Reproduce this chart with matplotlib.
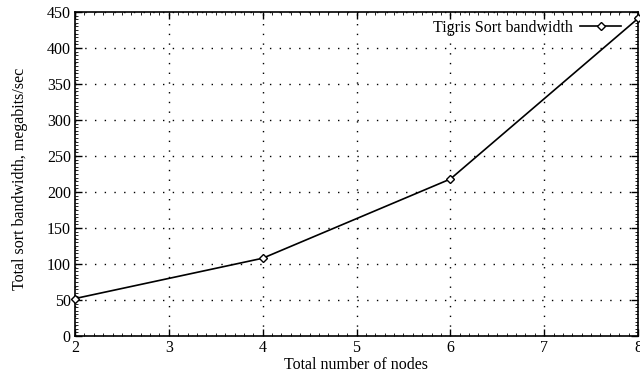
import matplotlib
matplotlib.use("Agg")
import matplotlib.pyplot as plt
from matplotlib.ticker import MultipleLocator

nodes = [2, 4, 6, 8]
bandwidth = [52, 108, 218, 441]

plt.rcParams['font.family'] = ['Liberation Serif', 'DejaVu Serif']
plt.rcParams['font.size'] = 11.5

fig = plt.figure(figsize=(6.4, 3.72), dpi=100)
ax = fig.add_axes([75 / 640, 1 - 336 / 372, 563 / 640, 324 / 372])

ax.plot(nodes, bandwidth, color='black', lw=1.2, marker='D', markersize=4.5,
        markerfacecolor='white', markeredgecolor='black', markeredgewidth=1.0,
        label='Tigris Sort bandwidth', clip_on=False, zorder=3)

ax.set_xlim(2, 8)
ax.set_ylim(0, 450)
ax.xaxis.set_major_locator(MultipleLocator(1))
ax.yaxis.set_major_locator(MultipleLocator(50))
ax.xaxis.set_minor_locator(MultipleLocator(0.1))
ax.yaxis.set_minor_locator(MultipleLocator(5))
ax.tick_params(which='both', direction='in', top=True, right=True, colors='black')
ax.tick_params(which='major', length=5, width=1)
ax.tick_params(which='minor', length=2, width=0.6)
ax.tick_params(axis='x', pad=3)
ax.tick_params(axis='y', pad=3)
ax.grid(True, which='major', linestyle=(0, (1, 6)), color='black', lw=1.0)
for s in ax.spines.values():
    s.set_linewidth(1.2)

ax.set_xlabel('Total number of nodes', va='center')
ax.xaxis.set_label_coords(0.5, -0.088)
ax.set_ylabel('Total sort bandwidth, megabits/sec', va='center')
ax.yaxis.set_label_coords(-0.098, 0.485)

leg = ax.legend(loc='upper right', frameon=False, markerfirst=False,
                handlelength=2.6, handletextpad=0.45, borderaxespad=0.0,
                bbox_to_anchor=(0.982, 0.995))

fig.savefig('out.png', dpi=100)
